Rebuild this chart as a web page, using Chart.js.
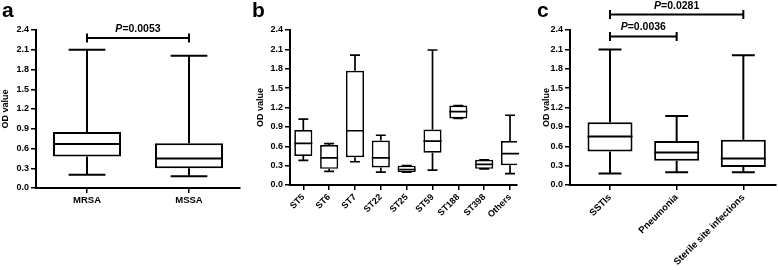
<!DOCTYPE html>
<html><head><meta charset="utf-8">
<script src="https://cdn.jsdelivr.net/npm/chart.js@4.4.1/dist/chart.umd.min.js"></script>
<style>
html,body{margin:0;padding:0;background:#fff;width:778px;height:270px;overflow:hidden;}
#wrap{position:relative;width:778px;height:270px;}
canvas{position:absolute;top:0;}
.lab{position:absolute;font:bold 21px "Liberation Sans",Arial,sans-serif;line-height:21px;color:#000;}
</style></head><body>
<div id="wrap">
<canvas id="ca" width="252" height="270" style="left:0px"></canvas>
<canvas id="cb" width="270" height="270" style="left:255px"></canvas>
<canvas id="cc" width="237" height="270" style="left:541px"></canvas>
<div class="lab" style="left:2px;top:-1px">a</div>
<div class="lab" style="left:252px;top:-1px">b</div>
<div class="lab" style="left:537px;top:-1px">c</div>
</div>
<script>
// ---- data ----
const yTickValues = [0, 0.3, 0.6, 0.9, 1.2, 1.5, 1.8, 2.1, 2.4];
const yTickLabels = ['0.0', '0.3', '0.6', '0.9', '1.2', '1.5', '1.8', '2.1', '2.4'];

const catsA = ['MRSA', 'MSSA'];
const minA = [0.20, 0.18];
const q1A  = [0.48, 0.30];
const medA = [0.67, 0.45];
const q3A  = [0.85, 0.68];
const maxA = [2.10, 2.01];

const catsB = ['ST5', 'ST6', 'ST7', 'ST22', 'ST25', 'ST59', 'ST188', 'ST398', 'Others'];
const minB = [0.38, 0.21, 0.36, 0.20, 0.20, 0.23, 1.03, 0.25, 0.175];
const q1B  = [0.45, 0.25, 0.43, 0.27, 0.20, 0.50, 1.03, 0.25, 0.305];
const medB = [0.645, 0.42, 0.84, 0.42, 0.24, 0.68, 1.135, 0.32, 0.485];
const q3B  = [0.85, 0.62, 1.77, 0.69, 0.30, 0.86, 1.23, 0.39, 0.68];
const maxB = [1.02, 0.64, 2.01, 0.77, 0.30, 2.09, 1.23, 0.39, 1.08];

const catsC = ['SSTIs', 'Pneumonia', 'Sterile site infections'];
const minC = [0.18, 0.196, 0.196];
const q1C  = [0.52, 0.377, 0.28];
const medC = [0.75, 0.505, 0.41];
const q3C  = [0.97, 0.68, 0.70];
const maxC = [2.10, 1.07, 2.01];

const pFromA = [0], pToA = [1], pLevelA = [2.28], pTextA = ['0.0053'];
const pFromC = [0, 0], pToC = [1, 2], pLevelC = [2.30, 2.64], pTextC = ['0.0036', '0.0281'];

const yTitle = 'OD value';
// ---- end data ----

const FONT = '"Liberation Sans", Arial, sans-serif';

function makeBox(id, cats, mins, q1s, meds, q3s, maxs, br, o) {
  const boxPlugin = {
    id: 'boxw_' + id,
    afterDatasetsDraw(chart) {
      const ctx = chart.ctx, ys = chart.scales.y;
      const meta = chart.getDatasetMeta(0);
      ctx.save();
      ctx.strokeStyle = '#000';
      ctx.lineWidth = o.lw;
      meta.data.forEach((bar, i) => {
        const x = bar.x, w = bar.width, cw = w * o.cap;
        const yMin = ys.getPixelForValue(mins[i]);
        const yQ1 = ys.getPixelForValue(q1s[i]);
        const yMed = ys.getPixelForValue(meds[i]);
        const yQ3 = ys.getPixelForValue(q3s[i]);
        const yMax = ys.getPixelForValue(maxs[i]);
        ctx.beginPath();
        if (yMax < yQ3 - 0.5) { ctx.moveTo(x, yQ3); ctx.lineTo(x, yMax); }
        ctx.moveTo(x - cw / 2, yMax); ctx.lineTo(x + cw / 2, yMax);
        if (yMin > yQ1 + 0.5) { ctx.moveTo(x, yQ1); ctx.lineTo(x, yMin); }
        ctx.moveTo(x - cw / 2, yMin); ctx.lineTo(x + cw / 2, yMin);
        ctx.moveTo(x - w / 2, yMed); ctx.lineTo(x + w / 2, yMed);
        ctx.stroke();
      });
      ctx.restore();
    },
    afterDraw(chart) {
      if (!br) return;
      const ctx = chart.ctx, xs = chart.scales.x, ys = chart.scales.y;
      ctx.save();
      ctx.strokeStyle = '#000';
      ctx.fillStyle = '#000';
      ctx.lineWidth = 2;
      br.from.forEach((f, k) => {
        const x1 = xs.getPixelForValue(f), x2 = xs.getPixelForValue(br.to[k]);
        const yy = ys.getPixelForValue(br.level[k]);
        ctx.beginPath();
        ctx.moveTo(x1, yy); ctx.lineTo(x2, yy);
        ctx.moveTo(x1, yy - 4.5); ctx.lineTo(x1, yy + 4.5);
        ctx.moveTo(x2, yy - 4.5); ctx.lineTo(x2, yy + 4.5);
        ctx.stroke();
        const fs = 10.5;
        const f1 = 'italic bold ' + fs + 'px ' + FONT;
        const f2 = 'bold ' + fs + 'px ' + FONT;
        ctx.font = f1; const w1 = ctx.measureText('P').width;
        ctx.font = f2; const t2 = '=' + br.text[k]; const w2 = ctx.measureText(t2).width;
        const cx = (x1 + x2) / 2, sx = cx - (w1 + w2) / 2;
        ctx.textBaseline = 'alphabetic'; ctx.textAlign = 'left';
        ctx.font = f1; ctx.fillText('P', sx, yy - 6);
        ctx.font = f2; ctx.fillText(t2, sx + w1, yy - 6);
      });
      ctx.restore();
    }
  };

  return new Chart(document.getElementById(id), {
    type: 'bar',
    data: {
      datasets: [{
        data: cats.map((c, i) => ({ x: i, y: [q1s[i], q3s[i]] })),
        backgroundColor: '#fff',
        borderColor: '#000',
        borderWidth: o.lw,
        borderSkipped: false,
        barPercentage: o.bp,
        categoryPercentage: 1
      }]
    },
    options: {
      responsive: false,
      animation: false,
      devicePixelRatio: 1,
      layout: { padding: { top: o.top, right: o.padR, left: 0, bottom: 0 } },
      plugins: { legend: { display: false }, tooltip: { enabled: false }, title: { display: false } },
      scales: {
        x: {
          type: 'linear',
          offset: false,
          min: o.xMin, max: o.xMax,
          afterBuildTicks: s => { s.ticks = cats.map((c, i) => ({ value: i })); },
          afterFit: s => { s.height = o.xH; },
          ticks: {
            autoSkip: false,
            callback: (v, i) => cats[i],
            color: '#000',
            font: { family: FONT, weight: 'bold', size: o.xfs },
            minRotation: o.rot, maxRotation: o.rot,
            padding: 2
          },
          grid: { offset: false, drawOnChartArea: false, drawTicks: true, tickLength: 5, color: '#000', lineWidth: 1.5 },
          border: { display: true, color: '#000', width: 2 }
        },
        y: {
          min: 0, max: 2.4,
          afterBuildTicks: s => { s.ticks = yTickValues.map(v => ({ value: v })); },
          afterFit: s => { s.width = o.yW; },
          ticks: {
            callback: (v, i) => yTickLabels[i],
            color: '#000',
            font: { family: FONT, weight: 'bold', size: 9 },
            padding: 2
          },
          grid: { drawOnChartArea: false, drawTicks: true, tickLength: 5, color: '#000', lineWidth: 1.5 },
          border: { display: true, color: '#000', width: 2 },
          title: { display: true, text: yTitle, color: '#000', font: { family: FONT, weight: 'bold', size: 9 }, padding: { top: 0, bottom: 0 } }
        }
      }
    },
    plugins: [boxPlugin]
  });
}

makeBox('ca', catsA, minA, q1A, medA, q3A, maxA,
  { from: pFromA, to: pToA, level: pLevelA, text: pTextA },
  { lw: 2, cap: 0.54, bp: 0.667, top: 30, padR: 12, xMin: -0.5, xMax: 1.5, xH: 82, yW: 36, rot: 0, xfs: 9.5 });

makeBox('cb', catsB, minB, q1B, medB, q3B, maxB, null,
  { lw: 1.7, cap: 0.55, bp: 0.70, top: 30, padR: 8, xMin: -0.515, xMax: 8.27, xH: 85, yW: 35, rot: 45, xfs: 9 });

makeBox('cc', catsC, minC, q1C, medC, q3C, maxC,
  { from: pFromC, to: pToC, level: pLevelC, text: pTextC },
  { lw: 2, cap: 0.51, bp: 0.675, top: 30, padR: 2, xMin: -0.6, xMax: 2.49, xH: 85, yW: 29, rot: 45, xfs: 9.5 });
</script>
</body></html>
